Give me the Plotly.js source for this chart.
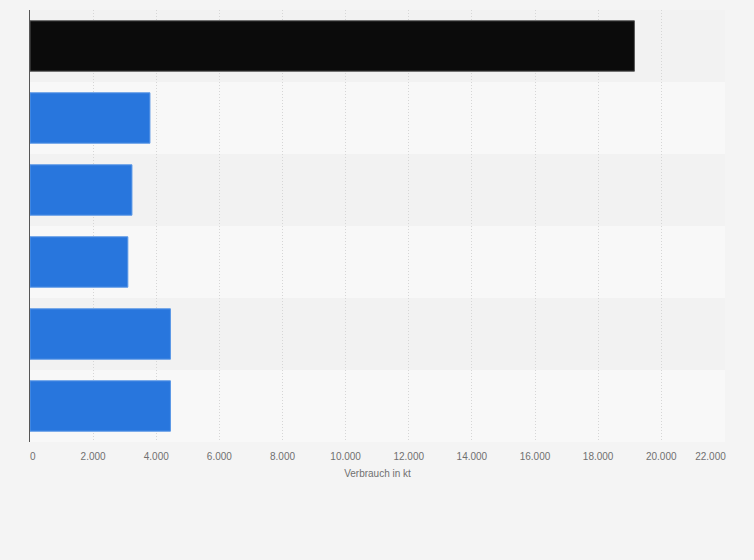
<!DOCTYPE html>
<html>
<head>
<meta charset="utf-8">
<script src="https://cdn.plot.ly/plotly-3.0.1.min.js"></script>
<style>
  html, body { margin: 0; padding: 0; background: #f4f4f4; }
  #chart { width: 754px; height: 560px; }
</style>
</head>
<body>
<div id="chart"></div>
<script>
// Categories (top to bottom); labels are not shown in the reference
const categories = ["Kategorie 1", "Kategorie 2", "Kategorie 3", "Kategorie 4", "Kategorie 5", "Kategorie 6"];
const values = [19150, 3800, 3230, 3100, 4450, 4450];
const barColors = ["#0b0b0b", "#2876dd", "#2876dd", "#2876dd", "#2876dd", "#2876dd"];
const lineColors = ["#555555", "#5a97e6", "#5a97e6", "#5a97e6", "#5a97e6", "#5a97e6"];
const tickValues = [0, 2000, 4000, 6000, 8000, 10000, 12000, 14000, 16000, 18000, 20000, 22000];
const tickLabels = ["\u00a0\u00a00", "2.000", "4.000", "6.000", "8.000", "10.000", "12.000", "14.000", "16.000", "18.000", "20.000", "22.000\u00a0\u00a0\u00a0\u00a0\u00a0\u00a0\u00a0\u00a0\u00a0\u00a0"];
const axisTitle = "Verbrauch in kt";

// Alternating background bands, one per category
const shapes = categories.map((c, i) => ({
  type: "rect", xref: "paper", yref: "y", layer: "below",
  x0: 0, x1: 1, y0: i - 0.5, y1: i + 0.5,
  fillcolor: i % 2 === 0 ? "#f2f2f2" : "#f8f8f8",
  line: { width: 0 }
}));

const trace = {
  type: "bar",
  orientation: "h",
  x: values,
  y: categories.map((c, i) => i),
  text: categories,
  hoverinfo: "x+text",
  textposition: "none",
  marker: { color: barColors, line: { color: lineColors, width: 1 } }
};

const layout = {
  width: 754, height: 560,
  margin: { l: 30, r: 29, t: 10, b: 118 },
  paper_bgcolor: "#f4f4f4",
  plot_bgcolor: "rgba(0,0,0,0)",
  font: { family: "Liberation Sans, Arial, sans-serif", size: 10, color: "#707070" },
  bargap: 0.3,
  showlegend: false,
  shapes: shapes,
  xaxis: {
    range: [0, 22020],
    tickvals: tickValues,
    ticktext: tickLabels,
    ticklabeloverflow: "allow",
    showgrid: true,
    gridcolor: "#d6d6d6",
    griddash: "1px,2px",
    gridwidth: 1,
    zeroline: false,
    showline: false,
    ticks: "outside",
    ticklen: 5,
    tickcolor: "rgba(0,0,0,0)",
    tickfont: { size: 10, color: "#707070" },
    title: { text: axisTitle, font: { size: 10, color: "#707070" }, standoff: 8 },
    fixedrange: true
  },
  yaxis: {
    range: [categories.length - 0.5, -0.5],
    tickvals: categories.map((c, i) => i),
    showticklabels: false,
    showgrid: false,
    zeroline: false,
    showline: true,
    linecolor: "#555555",
    linewidth: 1,
    ticks: "",
    fixedrange: true
  }
};

Plotly.newPlot("chart", [trace], layout, { displayModeBar: false, staticPlot: true });
</script>
</body>
</html>
